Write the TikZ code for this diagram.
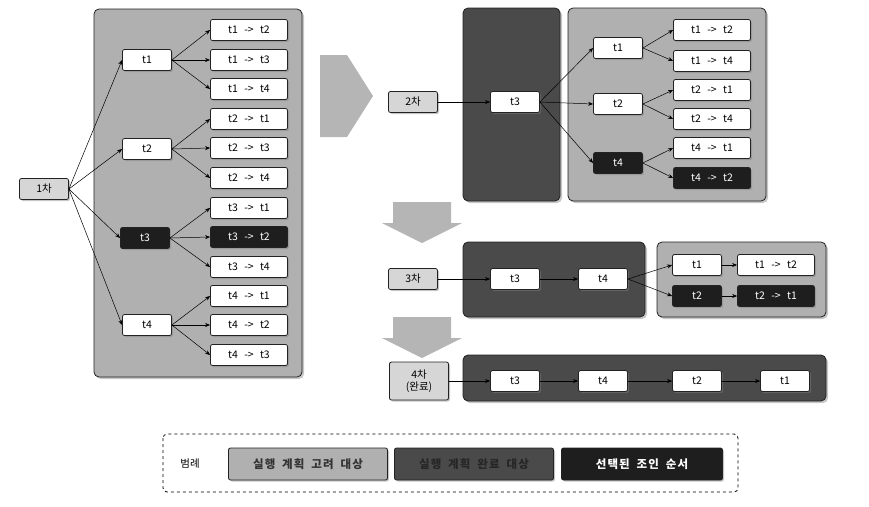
\documentclass[tikz,border=0pt]{standalone}
\usepackage{fontspec}
\setmainfont{Noto Sans CJK KR}
\usetikzlibrary{arrows.meta, positioning, shadows}
\definecolor{plangray}{HTML}{B0B0B0}
\definecolor{donegray}{HTML}{4A4A4A}
\definecolor{pickblack}{HTML}{1E1E1E}
\definecolor{stagegray}{HTML}{D6D6D6}
\definecolor{arrowgray}{HTML}{B5B5B5}
\definecolor{edgegray}{HTML}{222222}
\newcommand{\jn}{\hspace{0.6em}->\hspace{0.6em}}
\newcommand{\wgap}{\hspace{0.6em}}

\begin{document}
\begin{tikzpicture}[x=1pt, y=-1pt,
  tbl/.style={rectangle, draw=edgegray, fill=white, rounded corners=2pt, line width=0.8pt,
    minimum width=49pt, minimum height=21pt, inner sep=0pt, font=\fontsize{10.5}{12}\selectfont,
    drop shadow={shadow xshift=1.5pt, shadow yshift=-1.5pt, opacity=0.45}},
  pair/.style={tbl, minimum width=77pt},
  pick/.style={fill=pickblack, text=white!80},
  stage/.style={tbl, fill=stagegray},
  area/.style={draw=edgegray, fill=#1, rounded corners=5pt, line width=0.8pt,
    drop shadow={shadow xshift=2pt, shadow yshift=-2pt, opacity=0.45}},
  link/.style={-{Stealth[length=5pt, width=4pt]}, line width=0.5pt},
  legendbox/.style={tbl, minimum width=159pt, minimum height=32pt,
    font=\fontsize{11.5}{13}\selectfont\bfseries\addfontfeature{LetterSpace=10}},
]
  \useasboundingbox (0,0) rectangle (869,506);

  % containers
  \draw[area=plangray] (94,9) rectangle (302,377);
  \draw[area=donegray] (463,8) rectangle (560,201);
  \draw[area=plangray] (568,8) rectangle (766,201);
  \draw[area=donegray] (463,242) rectangle (645,317);
  \draw[area=plangray] (657,242) rectangle (826,317);
  \draw[area=donegray] (463,355) rectangle (826,401);

  % step arrows
  \fill[arrowgray] (320,55) -- (347,55) -- (373,96) -- (347,137) -- (320,137) -- cycle;
  \fill[arrowgray] (393,202) -- (451,202) -- (451,223) -- (462,223) -- (422,243)
    -- (382,223) -- (393,223) -- cycle;
  \fill[arrowgray] (393,317) -- (451,317) -- (451,338) -- (462,338) -- (422,358)
    -- (382,338) -- (393,338) -- cycle;

  % 1st pass
  \node[stage] (s1) at (44,189) {1차};
  \node[tbl] (a1) at (147,60) {t1};
  \node[tbl] (a2) at (147,149) {t2};
  \node[tbl, pick] (a3) at (145,238) {t3};
  \node[tbl] (a4) at (147,325) {t4};
  \node[pair] (a12) at (249,30) {t1\jn t2};
  \node[pair] (a13) at (249,60) {t1\jn t3};
  \node[pair] (a14) at (249,89) {t1\jn t4};
  \node[pair] (a21) at (249,119) {t2\jn t1};
  \node[pair] (a23) at (249,148) {t2\jn t3};
  \node[pair] (a24) at (249,178) {t2\jn t4};
  \node[pair] (a31) at (249,208) {t3\jn t1};
  \node[pair, pick] (a32) at (249,237) {t3\jn t2};
  \node[pair] (a34) at (249,267) {t3\jn t4};
  \node[pair] (a41) at (249,296) {t4\jn t1};
  \node[pair] (a42) at (249,325) {t4\jn t2};
  \node[pair] (a43) at (249,355) {t4\jn t3};

  \foreach \n in {a1,a2,a3,a4}
    \draw[link] (s1.east) -- (\n.west);
  \foreach \n in {a12,a13,a14} \draw[link] (a1.east) -- (\n.west);
  \foreach \n in {a21,a23,a24} \draw[link] (a2.east) -- (\n.west);
  \foreach \n in {a31,a32,a34} \draw[link] (a3.east) -- (\n.west);
  \foreach \n in {a41,a42,a43} \draw[link] (a4.east) -- (\n.west);

  % 2nd pass
  \node[stage] (s2) at (413,102) {2차};
  \node[tbl] (b3) at (515,102) {t3};
  \node[tbl] (b1) at (618,48) {t1};
  \node[tbl] (b2) at (618,104) {t2};
  \node[tbl, pick] (b4) at (618,163) {t4};
  \node[pair] (b12) at (712,30) {t1\jn t2};
  \node[pair] (b14) at (712,61) {t1\jn t4};
  \node[pair] (b21) at (712,90) {t2\jn t1};
  \node[pair] (b24) at (712,119) {t2\jn t4};
  \node[pair] (b41) at (712,148) {t4\jn t1};
  \node[pair, pick] (b42) at (712,178) {t4\jn t2};

  \draw[link] (s2) -- (b3);
  \foreach \n in {b1,b2,b4} \draw[link] (b3.east) -- (\n.west);
  \foreach \n in {b12,b14} \draw[link] (b1.east) -- (\n.west);
  \foreach \n in {b21,b24} \draw[link] (b2.east) -- (\n.west);
  \foreach \n in {b41,b42} \draw[link] (b4.east) -- (\n.west);

  % 3rd pass
  \node[stage] (s3) at (413,279) {3차};
  \node[tbl] (c3) at (515,279) {t3};
  \node[tbl] (c4) at (603,279) {t4};
  \node[tbl] (c1) at (697,265) {t1};
  \node[tbl, pick] (c2) at (697,296) {t2};
  \node[pair] (c12) at (776,265) {t1\jn t2};
  \node[pair, pick] (c21) at (776,296) {t2\jn t1};

  \draw[link] (s3) -- (c3);
  \draw[link] (c3) -- (c4);
  \draw[link] (c4.east) -- (c1.west);
  \draw[link] (c4.east) -- (c2.west);
  \draw[link] (c1) -- (c12);
  \draw[link] (c2) -- (c21);

  % 4th pass
  \node[stage, minimum width=59pt, minimum height=38pt, align=center,
    font=\fontsize{10.5}{12.5}\selectfont] (s4) at (419,381) {4차\\(완료)};
  \node[tbl] (d3) at (515,381) {t3};
  \node[tbl] (d4) at (603,381) {t4};
  \node[tbl] (d2) at (697,381) {t2};
  \node[tbl] (d1) at (785,381) {t1};

  \draw[link] (s4) -- (d3);
  \draw[link] (d3) -- (d4);
  \draw[link] (d4) -- (d2);
  \draw[link] (d2) -- (d1);

  % legend
  \draw[dashed, line width=0.8pt, rounded corners=4pt] (163,434) rectangle (738,492);
  \node[font=\fontsize{10.5}{12}\selectfont] (key) at (190,464) {범례};
  \node[legendbox, fill=plangray, text=black!80] (k1) at (308,464) {실행\wgap 계획\wgap 고려\wgap 대상};
  \node[legendbox, fill=donegray, text=black!85] (k2) at (474,464) {실행\wgap 계획\wgap 완료\wgap 대상};
  \node[legendbox, pick, minimum width=161pt] (k3) at (642,464) {선택된\wgap 조인\wgap 순서};
\end{tikzpicture}
\end{document}
